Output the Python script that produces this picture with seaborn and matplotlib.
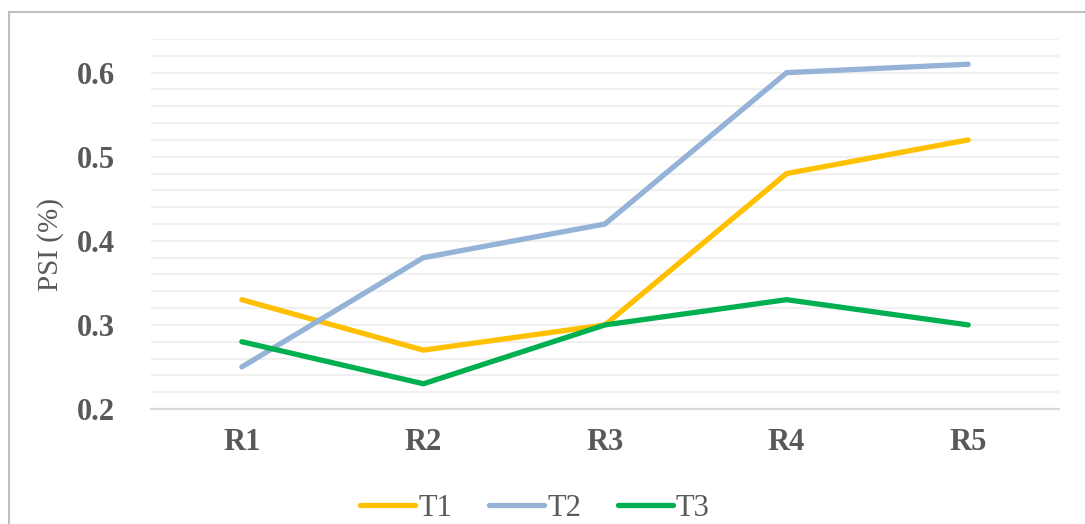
import numpy as np
import pandas as pd
import matplotlib
matplotlib.use("Agg")
import matplotlib.pyplot as plt
import seaborn as sns
from matplotlib.patches import Rectangle

rounds = ["R1", "R2", "R3", "R4", "R5"]
t1 = [0.33, 0.27, 0.30, 0.48, 0.52]
t2 = [0.25, 0.38, 0.42, 0.60, 0.61]
t3 = [0.28, 0.23, 0.30, 0.33, 0.30]
series = ["T1", "T2", "T3"]
colors = ["#FFC000", "#95B3D7", "#00B050"]

df = pd.DataFrame({"Round": rounds * 3,
                   "PSI": t1 + t2 + t3,
                   "Series": [s for s in series for _ in rounds]})

sns.set_style("white")
plt.rcParams["font.family"] = ["Liberation Serif", "DejaVu Serif"]

fig = plt.figure(figsize=(10.85, 5.24), dpi=100)
ax = fig.add_axes([151 / 1085, 1 - 409 / 524, 908 / 1085, 370 / 524])

# light gridlines every 0.02
for y in np.arange(0.22, 0.641, 0.02):
    ax.axhline(y, color="#F0F0F0", lw=1.6, zorder=0)

sns.lineplot(data=df, x="Round", y="PSI", hue="Series", palette=colors,
             lw=3.8, ax=ax, sort=False, legend=True)
for ln in ax.lines:
    ln.set_solid_capstyle("round")
    ln.set_solid_joinstyle("round")

ax.set_xlim(-0.5, 4.5)
ax.set_ylim(0.2, 0.64)
ax.set_yticks([0.2, 0.3, 0.4, 0.5, 0.6])
ax.set_yticklabels(["0.2", "0.3", "0.4", "0.5", "0.6"])
for s in ["top", "right", "left"]:
    ax.spines[s].set_visible(False)
ax.spines["bottom"].set_color("#D9D9D9")
ax.spines["bottom"].set_linewidth(1.6)
ax.tick_params(axis="both", length=0, labelsize=22, labelcolor="#595959")
ax.tick_params(axis="y", pad=26)
ax.tick_params(axis="x", pad=14)
for lab in ax.get_xticklabels() + ax.get_yticklabels():
    lab.set_fontweight("bold")
ax.set_xlabel("")
ax.set_ylabel("PSI (%)", fontsize=21, color="#595959")
ax.yaxis.set_label_coords(-0.096, 0.445)

handles, labels = ax.get_legend_handles_labels()
ax.legend(handles, labels, loc="center", bbox_to_anchor=(535 / 1085, 1 - 508 / 524),
          bbox_transform=fig.transFigure, ncol=3, frameon=False, fontsize=22,
          labelcolor="#595959", handlelength=1.8, handletextpad=0.1,
          columnspacing=1.2, borderaxespad=0)

fig.patches.append(Rectangle((9 / 1085, -0.1), 1.2, 1 - 12 / 524 + 0.1,
                             transform=fig.transFigure, fill=False,
                             edgecolor="#BFBFBF", lw=1.5, zorder=0))

fig.savefig("out.png", dpi=100)
